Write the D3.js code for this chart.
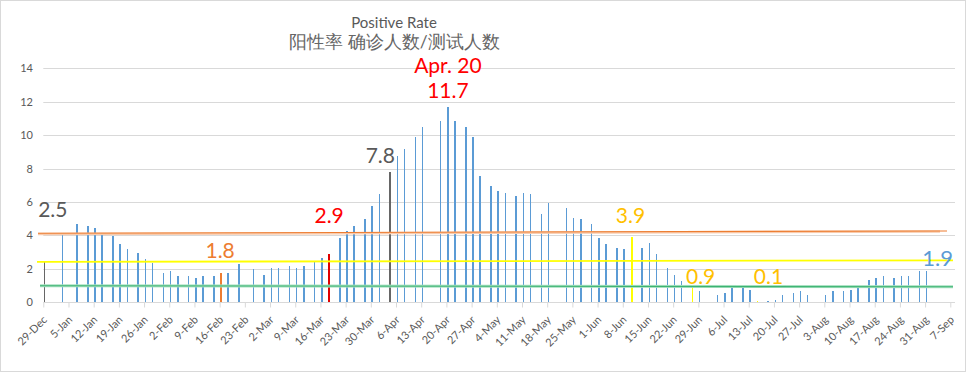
<!DOCTYPE html>
<html>
<head>
<meta charset="utf-8">
<script src="https://cdn.jsdelivr.net/npm/d3@7"></script>
<style>
body { margin: 0; background: #fff; }
text { font-family: Lato, "Noto Sans", sans-serif; }
</style>
</head>
<body>
<div id="container"></div>
<script>
// positive rate per test day (axis uses a non-leap year so the weekly labels read 2-Mar etc.)
const dates = [
  "2018-12-29","2019-01-03","2019-01-07","2019-01-10","2019-01-12","2019-01-14","2019-01-17","2019-01-19",
  "2019-01-21","2019-01-24","2019-01-26","2019-01-28","2019-01-31","2019-02-02","2019-02-04","2019-02-07",
  "2019-02-09","2019-02-11","2019-02-14","2019-02-16","2019-02-18","2019-02-21","2019-02-25","2019-02-28",
  "2019-03-02","2019-03-04","2019-03-07","2019-03-09","2019-03-11","2019-03-14","2019-03-16","2019-03-18",
  "2019-03-21","2019-03-23","2019-03-25","2019-03-28","2019-03-30","2019-04-01","2019-04-04","2019-04-06",
  "2019-04-08","2019-04-11","2019-04-13","2019-04-18","2019-04-20","2019-04-22","2019-04-25","2019-04-27",
  "2019-04-29","2019-05-02","2019-05-04","2019-05-06","2019-05-09","2019-05-11","2019-05-13","2019-05-16",
  "2019-05-18","2019-05-23","2019-05-25","2019-05-27","2019-05-30","2019-06-01","2019-06-03","2019-06-06",
  "2019-06-08","2019-06-10","2019-06-13","2019-06-15","2019-06-17","2019-06-20","2019-06-22","2019-06-24",
  "2019-06-27","2019-06-29","2019-07-04","2019-07-06","2019-07-08","2019-07-11","2019-07-13","2019-07-15",
  "2019-07-18","2019-07-20","2019-07-22","2019-07-25","2019-07-27","2019-07-29","2019-08-03","2019-08-05",
  "2019-08-08","2019-08-10","2019-08-12","2019-08-15","2019-08-17","2019-08-19","2019-08-22","2019-08-24",
  "2019-08-26","2019-08-29","2019-08-31"
];
const rates = [
  2.5, 4.13, 4.69, 4.57, 4.45, 4.11, 3.97, 3.49,
  3.19, 2.95, 2.59, 2.38, 1.76, 1.88, 1.58, 1.58,
  1.46, 1.58, 1.58, 1.76, 1.76, 2.30, 2.00, 1.64,
  2.06, 2.06, 2.18, 2.06, 2.18, 2.45, 2.65, 2.9,
  3.85, 4.27, 4.57, 4.99, 5.79, 6.49, 7.8, 8.76,
  9.18, 9.90, 10.50, 10.86, 11.7, 10.86, 10.50, 9.90,
  7.56, 6.97, 6.65, 6.53, 6.37, 6.53, 6.47, 5.29,
  5.95, 5.65, 5.05, 4.99, 4.69, 3.85, 3.49, 3.25,
  3.19, 3.9, 3.25, 3.55, 2.89, 2.06, 1.64, 1.28,
  0.9, 0.68, 0.44, 0.56, 1.04, 0.86, 0.74, 0.06,
  0.08, 0.14, 0.44, 0.56, 0.68, 0.44, 0.44, 0.68,
  0.68, 0.74, 0.98, 1.34, 1.46, 1.58, 1.46, 1.58,
  1.58, 1.88, 1.9
];

const grayDays = ["2018-12-29", "2019-04-04"];
const redDays = ["2019-03-18"];
const orangeDays = ["2019-02-16"];
const yellowDays = ["2019-06-10", "2019-06-27", "2019-07-15"];

const xTickLabels = ["29-Dec","5-Jan","12-Jan","19-Jan","26-Jan","2-Feb","9-Feb","16-Feb","23-Feb",
  "2-Mar","9-Mar","16-Mar","23-Mar","30-Mar","6-Apr","13-Apr","20-Apr","27-Apr","4-May","11-May",
  "18-May","25-May","1-Jun","8-Jun","15-Jun","22-Jun","29-Jun","6-Jul","13-Jul","20-Jul","27-Jul",
  "3-Aug","10-Aug","17-Aug","24-Aug","31-Aug","7-Sep"];
const yTicks = [0, 2, 4, 6, 8, 10, 12, 14];

// the flat reference lines: value at the left and right end
const refNames = ["peach", "orange", "yellow", "greenGlow", "green"];
const refStart = [4.08, 4.13, 2.42, 0.99, 0.99];
const refEnd = [4.24, 4.27, 2.51, 0.93, 0.93];

// callout labels
const labelDates = ["2018-12-29","2019-02-16","2019-03-18","2019-04-04","2019-04-20","2019-04-20",
  "2019-06-10","2019-06-27","2019-07-15","2019-08-31"];
const labelTexts = ["2.5","1.8","2.9","7.8","Apr. 20","11.7","3.9","0.9","0.1","1.9"];

const W = 967, H = 373;
const parse = d3.utcParse("%Y-%m-%d");
const start = parse("2018-12-29");

const svg = d3.select("div#container")
  .append("svg")
  .attr("width", W)
  .attr("height", H);

// chart frame
svg.append("rect")
  .attr("x", 0.5).attr("y", 0.5)
  .attr("width", 965).attr("height", 371)
  .attr("fill", "#fff")
  .attr("stroke", "#d9d9d9");

const x = d3.scaleUtc()
  .domain([start, d3.utcDay.offset(start, 252)])
  .range([43.3, 950.3]);
const y = d3.scaleLinear()
  .domain([0, 14])
  .range([302.3, 68.3]);
const plotRight = 955;

// gridlines
svg.append("g")
  .selectAll("line")
  .data(yTicks.filter(d => d > 0))
  .enter().append("line")
  .attr("x1", 43.3).attr("x2", plotRight)
  .attr("y1", d => Math.round(y(d)) + 0.5)
  .attr("y2", d => Math.round(y(d)) + 0.5)
  .attr("stroke", "#d9d9d9");

// y labels
svg.append("g")
  .selectAll("text")
  .data(yTicks)
  .enter().append("text")
  .attr("x", 33)
  .attr("y", d => y(d) + 4)
  .attr("text-anchor", "end")
  .attr("font-size", 11)
  .attr("fill", "#595959")
  .text(d => d);

// x axis
const tickDates = xTickLabels.map((t, i) => d3.utcDay.offset(start, 7 * i));
const xAxis = svg.append("g")
  .attr("transform", "translate(0," + (Math.round(y(0)) + 0.5) + ")")
  .call(d3.axisBottom(x)
    .tickValues(tickDates)
    .tickSize(5)
    .tickFormat((d, i) => xTickLabels[i]));
xAxis.select(".domain").remove();
xAxis.append("line")
  .attr("x1", 43.3).attr("x2", plotRight)
  .attr("stroke", "#d9d9d9");
xAxis.selectAll(".tick line").attr("stroke", "#d9d9d9");
xAxis.selectAll(".tick text")
  .attr("font-family", "Lato, 'Noto Sans', sans-serif")
  .attr("font-size", 11)
  .attr("fill", "#595959")
  .attr("text-anchor", "end")
  .attr("dy", null)
  .attr("y", 0)
  .attr("transform", "translate(4,18) rotate(-45)");

// bars
function barColor(d) {
  if (grayDays.includes(d)) return "#666666";
  if (redDays.includes(d)) return "#e00000";
  if (orangeDays.includes(d)) return "#ed7d31";
  if (yellowDays.includes(d)) return "#ffff00";
  return "#5b9bd5";
}
const bars = dates.map((d, i) => ({ date: d, t: parse(d), v: rates[i] }));
svg.append("g")
  .attr("shape-rendering", "crispEdges")
  .selectAll("rect")
  .data(bars)
  .enter().append("rect")
  .attr("x", d => x(d.t) + 0.6)
  .attr("width", d => yellowDays[0] === d.date ? 2 : 1.5)
  .attr("y", d => y(d.v))
  .attr("height", d => y(0) - y(d.v))
  .attr("fill", d => barColor(d.date));

// reference lines
const refColor = { peach: "#f8cbad", orange: "#ed7d31", yellow: "#ffff00", greenGlow: "#a6e0c0", green: "#3cb371" };
const refWidth = { peach: 2.5, orange: 1.1, yellow: 1.8, greenGlow: 3, green: 1.2 };
const refX = { peach: [38, 940], orange: [38, 947], yellow: [37, 953], greenGlow: [40, 953], green: [40, 953] };
svg.append("g")
  .selectAll("line")
  .data(refNames)
  .enter().append("line")
  .attr("x1", d => refX[d][0])
  .attr("x2", d => refX[d][1])
  .attr("y1", (d, i) => y(refStart[i]))
  .attr("y2", (d, i) => y(refEnd[i]))
  .attr("stroke", d => refColor[d])
  .attr("stroke-width", d => refWidth[d]);

// callouts
const labelColor = ["#595959","#ed7d31","#ff0000","#595959","#ff0000","#ff0000","#ffc000","#ffc000","#ffc000","#5b9bd5"];
const labelDx = [8, -1, 0, -10, 0, 0, -1, 8, 11, 11];
const labelDy = [-43.5, -15, -31, -9, -34, -9, -14, -3, -17, -4.5];
const labelSize = [21, 21, 21, 21, 21, 21, 21, 21, 21, 22];
svg.append("g")
  .selectAll("text")
  .data(labelTexts)
  .enter().append("text")
  .attr("x", (d, i) => x(parse(labelDates[i])) + 1.5 + labelDx[i])
  .attr("y", (d, i) => y(rates[dates.indexOf(labelDates[i])]) + labelDy[i])
  .attr("text-anchor", "middle")
  .attr("font-size", (d, i) => labelSize[i])
  .attr("fill", (d, i) => labelColor[i])
  .text(d => d);

// titles
svg.append("text")
  .attr("x", 394).attr("y", 28)
  .attr("text-anchor", "middle")
  .attr("font-size", 15)
  .attr("fill", "#595959")
  .text("Positive Rate");
svg.append("text")
  .attr("x", 394.5).attr("y", 48)
  .attr("text-anchor", "middle")
  .attr("font-size", 17.5)
  .attr("font-family", "'Noto Sans CJK SC', sans-serif")
  .attr("fill", "#666666")
  .text("阳性率 确诊人数/测试人数");
</script>
</body>
</html>
